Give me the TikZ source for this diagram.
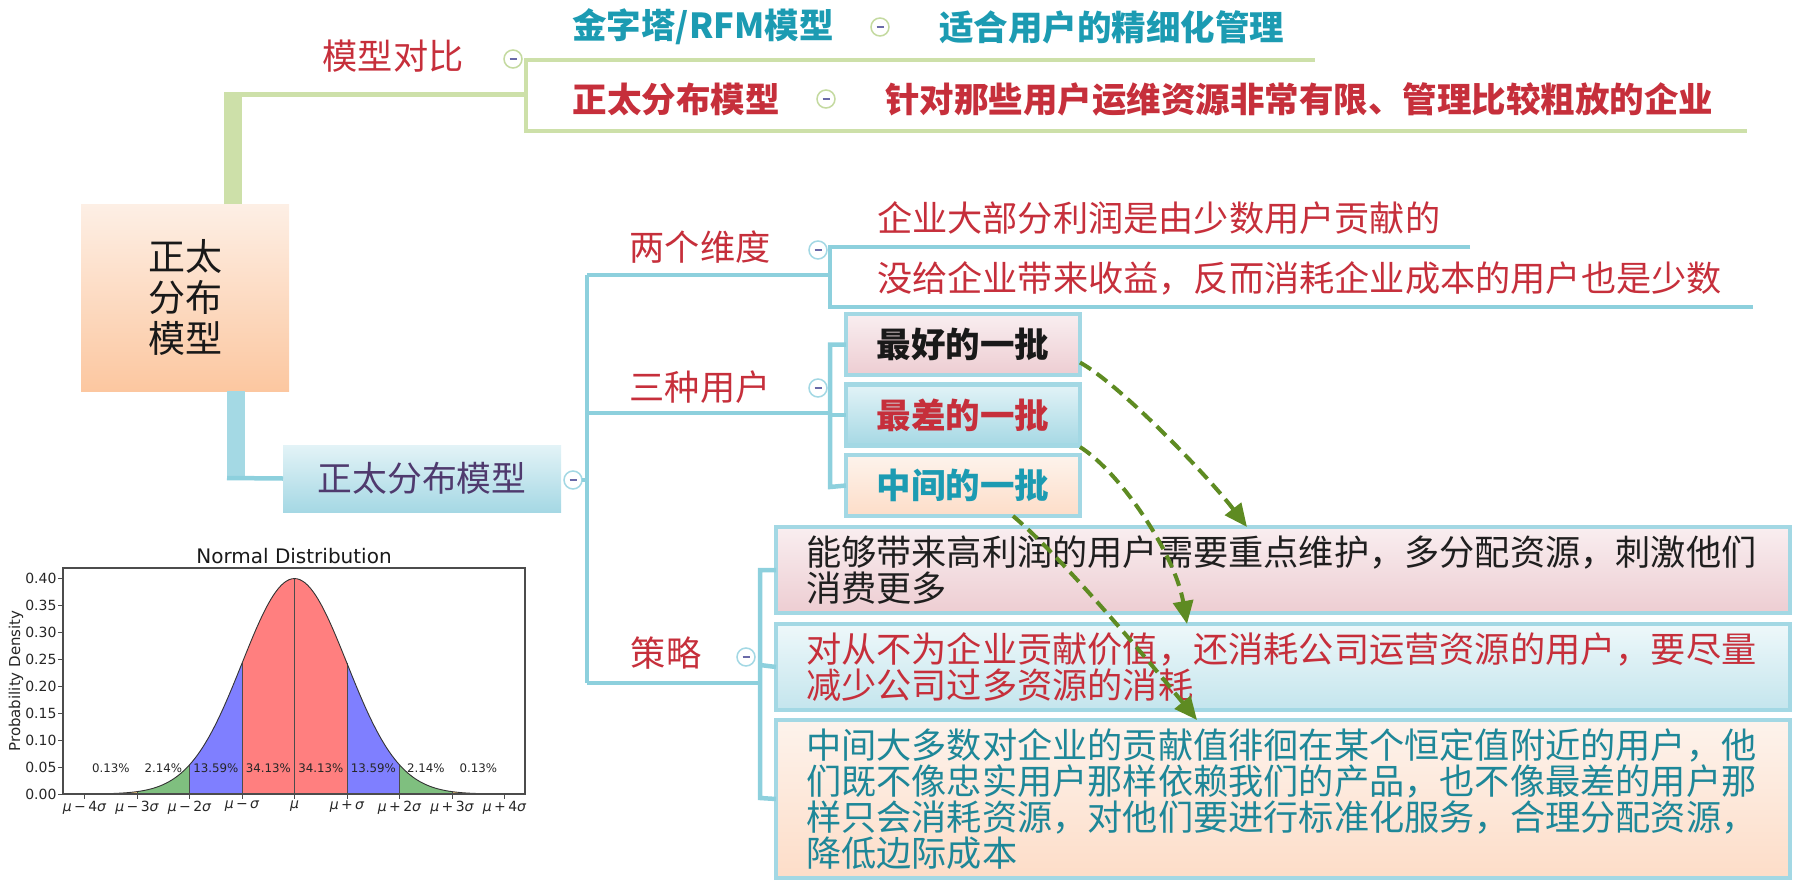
\documentclass[tikz,border=0pt]{standalone}
\usepackage{fontspec}
\setmainfont{Noto Sans CJK SC}
\newfontfamily\dvs{DejaVu Sans}
\usetikzlibrary{arrows.meta,calc}
\definecolor{gline}{HTML}{CDE0A9}
\definecolor{gcirc}{HTML}{C4DAA0}
\definecolor{bline}{HTML}{8DD0DD}
\definecolor{bthick}{HTML}{A4D9E4}
\definecolor{boxborder}{HTML}{A3D8E4}
\definecolor{redtxt}{HTML}{C62F3B}
\definecolor{tealtxt}{HTML}{1C9BB2}
\definecolor{tealdark}{HTML}{1E8798}
\definecolor{purptxt}{HTML}{4F3A6E}
\definecolor{arrowg}{HTML}{5E8B22}
\definecolor{minuscol}{HTML}{6A6AA8}
\definecolor{rootT}{HTML}{FDEFE5}
\definecolor{rootB}{HTML}{FCC7A0}
\definecolor{blueT}{HTML}{E3F3F7}
\definecolor{blueB}{HTML}{A5D8E4}
\definecolor{pinkT}{HTML}{F9EEF0}
\definecolor{pinkB}{HTML}{EDCDD2}
\definecolor{paleT}{HTML}{EEF8FA}
\definecolor{paleB}{HTML}{C4E5ED}
\definecolor{peachT}{HTML}{FDF3EC}
\definecolor{peachB}{HTML}{FDDDC8}
\definecolor{cRed}{RGB}{255,127,127}
\definecolor{cBlue}{RGB}{127,127,255}
\definecolor{cGreen}{RGB}{127,191,127}
\definecolor{cOrange}{RGB}{255,210,127}
\newcommand\mymu{{\itshape μ}}
\newcommand\mysig{{\itshape σ}}
\begin{document}
\begin{tikzpicture}[x=1pt,y=-1pt,
  every node/.style={inner sep=0pt, outer sep=0pt},
  lbl/.style={font=\fontsize{35.2}{36}\selectfont},
  lblb/.style={font=\fontsize{34.5}{36}\selectfont\bfseries},
  gthin/.style={draw=gline, line width=4.5pt},
  bthin/.style={draw=bline, line width=4.5pt},
  collapse/.style={circle, draw=#1, fill=white, line width=1.5pt, minimum size=18pt,
    path picture={\draw[minuscol, line width=1.6pt] ([xshift=-3.5pt]path picture bounding box.center) -- ([xshift=3.5pt]path picture bounding box.center);}},
  userbox/.style={draw=boxborder, line width=4.5pt, minimum width=234pt, minimum height=61pt, font=\fontsize{34.5}{36}\selectfont\bfseries},
  stratbox/.style={draw=boxborder, line width=4.5pt, minimum width=1014pt, text width=954pt, align=left, font=\fontsize{35.2}{36}\selectfont},
  dasharrow/.style={draw=arrowg, line width=4pt, dash pattern=on 13pt off 7pt, -{Triangle[length=23pt,width=20pt,fill=arrowg]}},
  ytick/.style={font=\dvs\fontsize{14}{15}\selectfont, text=black!85},
  xtick/.style={font=\dvs\fontsize{14}{15}\selectfont, text=black!85}
]
\useasboundingbox (0,0) rectangle (1808,886);

% ---------- root ----------
\node[top color=rootT, bottom color=rootB, minimum width=208pt, minimum height=187pt, align=center,
      font=\fontsize{37}{41}\selectfont, text=black!90] (root) at (185,297.5) {正太\\分布\\模型};

% ---------- green branch ----------
\coordinate (gA) at (233,94.7);
\coordinate (gB) at (526,94.7);
\draw[gline, line width=18pt] (gA |- root.north) -- ([yshift=2pt]gA);
\draw[gthin] ([xshift=-9pt]gA) -- (gB);
\node[lbl, text=redtxt] (mx) at (393,56) {模型对比};
\node[collapse=gcirc] (c1) at (513,59) {};
\coordinate (gT) at (526,60);
\coordinate (gTe) at (1315,60);
\coordinate (gBo) at (526,131);
\coordinate (gBe) at (1747,131);
\draw[gthin] (gTe) -- (gT) -- (gBo) -- (gBe);
\node[lblb, text=tealtxt] (jzt) at (703,27) {金字塔/RFM模型};
\node[collapse=gcirc] (c2) at (880,27) {};
\node[lblb, text=tealtxt, anchor=west] (jztd) at (939,27) {适合用户的精细化管理};
\node[lblb, text=redtxt] (ztm) at (676,99) {正太分布模型};
\node[collapse=gcirc] (c3) at (826,99) {};
\node[lblb, text=redtxt, anchor=west] (ztmd) at (885,99) {针对那些用户运维资源非常有限、管理比较粗放的企业};

% ---------- blue branch ----------
\coordinate (bA) at (236,478);
\draw[bthick, line width=18pt] (bA |- root.south) -- ([yshift=2pt]bA);
\node[top color=blueT, bottom color=blueB, minimum width=278pt, minimum height=67pt,
      font=\fontsize{34.8}{36}\selectfont, text=purptxt] (zt) at (422,478.5) {正太分布模型};
\draw[bthin] ([xshift=-9pt]bA) -- (zt.west);
\node[collapse=boxborder] (c0) at (573,480) {};
\coordinate (mT) at (587,275);
\coordinate (mB) at (587,683);
\draw[bthin] (c0.east) -- (587,480);
\draw[bthin] (mT) -- (mB);

% 两个维度
\node[lbl, text=redtxt] (lg) at (700,247) {两个维度};
\node[collapse=boxborder] (c4) at (818,250) {};
\coordinate (lgJ) at (830,275);
\draw[bthin] (mT) -- (lgJ);
\draw[bthin] (1470,247) -- (830,247) -- (830,307) -- (1753,307);
\node[lbl, text=redtxt, anchor=west] (lg1) at (877,218) {企业大部分利润是由少数用户贡献的};
\node[lbl, text=redtxt, anchor=west] (lg2) at (877,278) {没给企业带来收益，反而消耗企业成本的用户也是少数};

% 三种用户
\node[lbl, text=redtxt] (sz) at (700,387) {三种用户};
\node[collapse=boxborder] (c5) at (818,388) {};
\node[userbox, top color=pinkT, bottom color=pinkB, text=black!90] (b1) at (963,344.5) {最好的一批};
\node[userbox, top color=blueT, bottom color=blueB, text=redtxt] (b2) at (963,415) {最差的一批};
\node[userbox, top color=peachT, bottom color=peachB, text=tealtxt] (b3) at (963,485.5) {中间的一批};
\draw[bthin] (587,413) -- (830,413);
\draw[bthin] (b1.west) -| (830,487) -- (b3.west);
\draw[bthin] (830,415) -- (b2.west);

% 策略
\node[lbl, text=redtxt] (cl) at (666,653) {策略};
\node[collapse=boxborder] (c6) at (746,657) {};
\node[stratbox, top color=pinkT, bottom color=pinkB, minimum height=86pt, text=black!88] (bA1) at (1283,570)
  {能够带来高利润的用户需要重点维护，多分配资源，刺激他们\\消费更多};
\node[stratbox, top color=paleT, bottom color=paleB, minimum height=86pt, text=redtxt] (bB1) at (1283,667)
  {对从不为企业贡献价值，还消耗公司运营资源的用户，要尽量\\减少公司过多资源的消耗};
\node[stratbox, top color=peachT, bottom color=peachB, minimum height=158pt, text=tealdark] (bC1) at (1283,799)
  {中间大多数对企业的贡献值徘徊在某个恒定值附近的用户，他\\们既不像忠实用户那样依赖我们的产品，也不像最差的用户那\\样只会消耗资源，对他们要进行标准化服务，合理分配资源，\\降低边际成本};
\draw[bthin] (mB) -- (760,683);
\draw[bthin] (bA1.west) -| (760,798) -- (bC1.west);
\draw[bthin] (760,665) -- (bB1.west);

% dashed arrows
\draw[dasharrow] ([yshift=-18pt]b1.east) .. controls +(40,22) and +(-40,-52) .. ([xshift=-36pt]bA1.north);
\draw[dasharrow] ([yshift=-32pt]b2.east) .. controls +(40,25) and +(-12,-70) .. ([xshift=-96pt]bB1.north);
\draw[dasharrow] ([xshift=50pt]b3.south) .. controls +(50,42) and +(-45,-55) .. ([xshift=-86pt]bC1.north);

% ---------- normal distribution chart ----------
\node[font=\dvs\fontsize{20}{21}\selectfont, text=black!90] (title) at (294,556) {Normal Distribution};
\node[font=\dvs\fontsize{15}{16}\selectfont, text=black!85, rotate=90] (ylab) at (16,681) {Probability Density};
\begin{scope}[shift={(294.5,794)}, x=52.5pt, y=540pt]
  \fill[cOrange] plot[domain=-4:-3,samples=15] (\x,{0.398942*exp(-(\x)^2/2)}) -- (-3,0) -- (-4,0) -- cycle;
  \fill[cOrange] plot[domain=3:4,samples=15] (\x,{0.398942*exp(-(\x)^2/2)}) -- (4,0) -- (3,0) -- cycle;
  \fill[cGreen] plot[domain=-3:-2,samples=21] (\x,{0.398942*exp(-(\x)^2/2)}) -- (-2,0) -- (-3,0) -- cycle;
  \fill[cGreen] plot[domain=2:3,samples=21] (\x,{0.398942*exp(-(\x)^2/2)}) -- (3,0) -- (2,0) -- cycle;
  \fill[cBlue] plot[domain=-2:-1,samples=21] (\x,{0.398942*exp(-(\x)^2/2)}) -- (-1,0) -- (-2,0) -- cycle;
  \fill[cBlue] plot[domain=1:2,samples=21] (\x,{0.398942*exp(-(\x)^2/2)}) -- (2,0) -- (1,0) -- cycle;
  \fill[cRed] plot[domain=-1:1,samples=41] (\x,{0.398942*exp(-(\x)^2/2)}) -- (1,0) -- (-1,0) -- cycle;
  \foreach \k in {-3,-2,-1,0,1,2,3}
    \draw[black!70, line width=0.6pt] (\k,0) -- (\k,{0.398942*exp(-(\k)^2/2)});
  \draw[black!80, line width=0.9pt] plot[domain=-4:4,samples=161] (\x,{0.398942*exp(-(\x)^2/2)});
  \draw[black!70, line width=1.1pt] (-4.41,0) rectangle (4.39,0.4185);
  \foreach \v/\t in {0/0.00,0.05/0.05,0.1/0.10,0.15/0.15,0.2/0.20,0.25/0.25,0.3/0.30,0.35/0.35,0.4/0.40}
    \draw[black!70, line width=0.8pt] (-4.41,\v) -- ++(-5pt,0) node[ytick, left=1.5pt] {\t};
  \foreach \k/\t in {-4/{\mymu\,−\,4\mysig},-3/{\mymu\,−\,3\mysig},-2/{\mymu\,−\,2\mysig},-1/{\mymu\,−\,\mysig},0/{\mymu},1/{\mymu\,+\,\mysig},2/{\mymu\,+\,2\mysig},3/{\mymu\,+\,3\mysig},4/{\mymu\,+\,4\mysig}}
    \draw[black!70, line width=0.8pt] (\k,0) -- ++(0,-5pt) node[xtick, below=2pt] {\t};
  \foreach \k/\t in {-3.5/0.13\%,-2.5/2.14\%,-1.5/13.59\%,-0.5/34.13\%,0.5/34.13\%,1.5/13.59\%,2.5/2.14\%,3.5/0.13\%}
    \node[font=\dvs\fontsize{11.8}{12}\selectfont, text=black!85] at (\k,0.048) {\t};
\end{scope}
\end{tikzpicture}
\end{document}
